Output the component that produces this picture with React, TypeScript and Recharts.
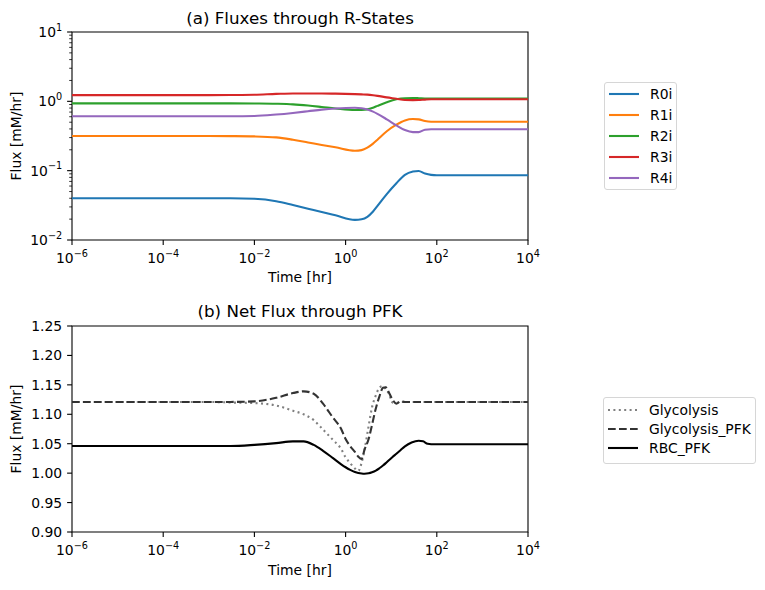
import React from 'react';
import { LineChart, Line, XAxis, YAxis, ReferenceArea, Legend } from 'recharts';

const FONT = '"DejaVu Sans", Verdana, sans-serif';

// ---------- Panel (a): fluxes through R-states ----------
const timesR = [1e-6, 1e-4, 1e-3, 0.003, 0.01, 0.03, 0.07, 0.15, 0.3, 0.6, 1.6, 2.24, 3, 4, 5, 8, 13, 20, 30, 40, 55, 75, 100, 150, 300, 1000, 10000];
const r0i = [0.040, 0.040, 0.040, 0.040, 0.0393, 0.0363, 0.032, 0.0283, 0.0253, 0.0227, 0.0195, 0.0199, 0.0216, 0.0258, 0.031, 0.046, 0.066, 0.087, 0.097, 0.099, 0.091, 0.087, 0.086, 0.086, 0.086, 0.086, 0.086];
const r1i = [0.316, 0.316, 0.316, 0.315, 0.312, 0.302, 0.279, 0.255, 0.235, 0.217, 0.194, 0.198, 0.215, 0.245, 0.28, 0.37, 0.46, 0.53, 0.555, 0.55, 0.52, 0.508, 0.507, 0.507, 0.507, 0.507, 0.507];
const r2i = [0.935, 0.935, 0.935, 0.934, 0.93, 0.922, 0.905, 0.87, 0.83, 0.79, 0.75, 0.752, 0.765, 0.81, 0.86, 0.97, 1.07, 1.11, 1.115, 1.11, 1.10, 1.10, 1.10, 1.10, 1.10, 1.10, 1.10];
const r3i = [1.23, 1.23, 1.23, 1.235, 1.245, 1.28, 1.30, 1.30, 1.30, 1.29, 1.27, 1.26, 1.25, 1.225, 1.20, 1.14, 1.09, 1.045, 1.04, 1.045, 1.06, 1.07, 1.07, 1.07, 1.07, 1.07, 1.07];
const r4i = [0.61, 0.61, 0.61, 0.61, 0.615, 0.645, 0.68, 0.72, 0.76, 0.79, 0.81, 0.795, 0.76, 0.71, 0.66, 0.55, 0.45, 0.385, 0.36, 0.36, 0.39, 0.395, 0.395, 0.395, 0.395, 0.395, 0.395];
const rNames = ['R0i', 'R1i', 'R2i', 'R3i', 'R4i'];
const rColors = ['#1f77b4', '#ff7f0e', '#2ca02c', '#d62728', '#9467bd'];
const rSeries = [r0i, r1i, r2i, r3i, r4i];

// ---------- Panel (b): net flux through PFK ----------
const timesP = [1e-6, 1e-4, 1e-3, 0.003, 0.01, 0.03, 0.07, 0.12, 0.2, 0.32, 0.52, 0.8, 1.0, 1.26, 1.6, 1.9, 2.25, 2.6, 3.2, 3.8, 4.6, 5.5, 6.6, 7.6, 8.9, 10.7, 13, 16, 20, 28, 40, 50, 63, 90, 160, 1000, 10000];
const glycolysis = [1.121, 1.121, 1.121, 1.120, 1.119, 1.115, 1.106, 1.100, 1.090, 1.074, 1.057, 1.041, 1.027, 1.017, 1.008, 1.004, 1.018, 1.040, 1.080, 1.112, 1.132, 1.145, 1.148, 1.143, 1.135, 1.120, 1.119, 1.121, 1.121, 1.121, 1.121, 1.121, 1.121, 1.121, 1.121, 1.121, 1.121];
const glycolysisPfk = [1.121, 1.121, 1.121, 1.121, 1.122, 1.128, 1.136, 1.139, 1.135, 1.118, 1.095, 1.075, 1.058, 1.046, 1.036, 1.028, 1.024, 1.040, 1.058, 1.082, 1.110, 1.130, 1.145, 1.146, 1.137, 1.125, 1.118, 1.122, 1.121, 1.121, 1.121, 1.121, 1.121, 1.121, 1.121, 1.121, 1.121];
const rbcPfk = [1.046, 1.046, 1.046, 1.046, 1.048, 1.051, 1.054, 1.054, 1.048, 1.038, 1.026, 1.015, 1.010, 1.0056, 1.002, 1.0003, 0.9993, 0.999, 0.9997, 1.0014, 1.0043, 1.0083, 1.013, 1.017, 1.022, 1.0275, 1.033, 1.039, 1.0455, 1.052, 1.055, 1.054, 1.050, 1.049, 1.049, 1.049, 1.049];
const pNames = ['Glycolysis', 'Glycolysis_PFK', 'RBC_PFK'];
const pColors = ['#808080', '#333333', '#000000'];
const pDash = ['2 3.4', '7.7 3.3', undefined];
const pSeries = [glycolysis, glycolysisPfk, rbcPfk];

// ---------- ticks ----------
const xTicks = [1e-6, 1e-4, 1e-2, 1, 1e2, 1e4];
const yMajorTop = [0.01, 0.1, 1, 10];
const yMinorTop = [0.02, 0.03, 0.04, 0.05, 0.06, 0.07, 0.08, 0.09, 0.2, 0.3, 0.4, 0.5, 0.6, 0.7, 0.8, 0.9, 2, 3, 4, 5, 6, 7, 8, 9];
const yTicksBottom = [0.9, 0.95, 1.0, 1.05, 1.1, 1.15, 1.2, 1.25];

const dataR = timesR.map((t, i) => {
  const row: any = { t };
  rNames.forEach((n, k) => (row[n] = rSeries[k][i]));
  return row;
});
const dataP = timesP.map((t, i) => {
  const row: any = { t };
  pNames.forEach((n, k) => (row[n] = pSeries[k][i]));
  return row;
});

const expLabel = (v: number) => {
  const e = Math.round(Math.log10(v));
  return e < 0 ? '\u2212' + Math.abs(e) : String(e);
};

const XPowTick = (props: any) => {
  const { x, y, payload } = props;
  const top = y - 10;
  return (
    <g>
      <line x1={x} x2={x} y1={top} y2={top + 4.9} stroke="#000" strokeWidth={1.1} />
      <text x={x} y={top + 23} textAnchor="middle" fontFamily={FONT} fontSize={13.9} fill="#000">
        <tspan>10</tspan>
        <tspan dy={-6.5} fontSize={9.7}>{expLabel(payload.value)}</tspan>
      </text>
    </g>
  );
};

const YPowTick = (props: any) => {
  const { x, y, payload } = props;
  const axisX = x + 10;
  const major = yMajorTop.includes(payload.value);
  if (!major) {
    return <line x1={axisX - 2.8} x2={axisX} y1={y} y2={y} stroke="#000" strokeWidth={0.8} />;
  }
  return (
    <g>
      <line x1={axisX - 4.9} x2={axisX} y1={y} y2={y} stroke="#000" strokeWidth={1.1} />
      <text x={axisX - 9.8} y={y + 5} textAnchor="end" fontFamily={FONT} fontSize={13.9} fill="#000">
        <tspan>10</tspan>
        <tspan dy={-6.5} fontSize={9.7}>{expLabel(payload.value)}</tspan>
      </text>
    </g>
  );
};

const YNumTick = (props: any) => {
  const { x, y, payload } = props;
  const axisX = x + 10;
  return (
    <g>
      <line x1={axisX - 4.9} x2={axisX} y1={y} y2={y} stroke="#000" strokeWidth={1.1} />
      <text x={axisX - 9.8} y={y + 5} textAnchor="end" fontFamily={FONT} fontSize={13.9} fill="#000">
        {payload.value.toFixed(2)}
      </text>
    </g>
  );
};

const makeLegend = (names: string[], colors: string[], dashes: (string | undefined)[], rowH: number, firstY: number, w: number, h: number) => () => (
  <div
    style={{
      position: 'relative',
      width: w,
      height: h,
      boxSizing: 'border-box',
      border: '1px solid #d6d6d6',
      borderRadius: 3,
      background: 'rgba(255,255,255,0.8)',
      fontFamily: FONT,
      fontSize: 13.9,
    }}
  >
    {names.map((n, i) => (
      <div key={n} style={{ position: 'absolute', left: 0, top: firstY + i * rowH - 10, height: 20, width: w }}>
        <svg width={40} height={20} style={{ position: 'absolute', left: 0, top: 0 }}>
          <line x1={4} x2={34} y1={10} y2={10} stroke={colors[i]} strokeWidth={2.1} strokeDasharray={dashes[i]} />
        </svg>
        <span style={{ position: 'absolute', left: 45, top: 1, lineHeight: '18px', color: '#000', whiteSpace: 'nowrap' }}>{n}</span>
      </div>
    ))}
  </div>
);

const LegendA = makeLegend(rNames, rColors, rNames.map(() => undefined), 21, 10.5, 73, 108);
const LegendB = makeLegend(pNames, pColors, pDash, 19, 12, 153, 67);

const textStyle = { fontFamily: FONT, fill: '#000' } as const;

export default function App() {
  return (
    <div style={{ position: 'absolute', left: 0, top: 0, width: 765, height: 590, background: '#fff' }}>
      <div style={{ position: 'absolute', left: 0, top: 0 }}>
        <LineChart width={765} height={295} data={dataR} margin={{ top: 32, right: 237, left: 0, bottom: 0 }}>
          <XAxis dataKey="t" type="number" scale="log" domain={[1e-6, 1e4]} ticks={xTicks} interval={0} allowDataOverflow
            height={55} tickSize={5} tickMargin={5} tickLine={false} axisLine={false} tick={<XPowTick />} />
          <YAxis type="number" scale="log" domain={[0.01, 10]} ticks={[...yMajorTop, ...yMinorTop]} interval={0} allowDataOverflow
            width={72} tickSize={5} tickMargin={5} tickLine={false} axisLine={false} tick={<YPowTick />} />
          {rNames.map((n, k) => (
            <Line key={n} dataKey={n} type="monotone" stroke={rColors[k]} strokeWidth={2.1} dot={false} isAnimationActive={false} />
          ))}
          <ReferenceArea x1={1e-6} x2={1e4} y1={0.01} y2={10} fill="none" stroke="#000" strokeWidth={1.1} fillOpacity={0} />
          <Legend layout="vertical" align="center" verticalAlign="middle" content={LegendA}
            wrapperStyle={{ left: 604, top: 82, width: 73, height: 108 }} />
        </LineChart>
      </div>
      <div style={{ position: 'absolute', left: 0, top: 295 }}>
        <LineChart width={765} height={292} data={dataP} margin={{ top: 31, right: 237, left: 0, bottom: 0 }}>
          <XAxis dataKey="t" type="number" scale="log" domain={[1e-6, 1e4]} ticks={xTicks} interval={0} allowDataOverflow
            height={55} tickSize={5} tickMargin={5} tickLine={false} axisLine={false} tick={<XPowTick />} />
          <YAxis type="number" domain={[0.9, 1.25]} ticks={yTicksBottom} interval={0} allowDataOverflow
            width={72} tickSize={5} tickMargin={5} tickLine={false} axisLine={false} tick={<YNumTick />} />
          {pNames.map((n, k) => (
            <Line key={n} dataKey={n} type="monotone" stroke={pColors[k]} strokeWidth={2.1} strokeDasharray={pDash[k]}
              dot={false} isAnimationActive={false} />
          ))}
          <ReferenceArea x1={1e-6} x2={1e4} y1={0.9} y2={1.25} fill="none" stroke="#000" strokeWidth={1.1} fillOpacity={0} />
          <Legend layout="vertical" align="center" verticalAlign="middle" content={LegendB}
            wrapperStyle={{ left: 603, top: 102, width: 153, height: 67 }} />
        </LineChart>
      </div>
      <svg width={765} height={590} style={{ position: 'absolute', left: 0, top: 0, pointerEvents: 'none' }}>
        <text x={300} y={23.5} textAnchor="middle" fontSize={16.7} {...textStyle}>(a) Fluxes through R-States</text>
        <text x={300} y={316.5} textAnchor="middle" fontSize={16.7} {...textStyle}>(b) Net Flux through PFK</text>
        <text x={300} y={282} textAnchor="middle" fontSize={13.9} {...textStyle}>Time [hr]</text>
        <text x={300} y={575} textAnchor="middle" fontSize={13.9} {...textStyle}>Time [hr]</text>
        <text transform="translate(21,136) rotate(-90)" textAnchor="middle" fontSize={13.9} {...textStyle}>Flux [mM/hr]</text>
        <text transform="translate(21,429) rotate(-90)" textAnchor="middle" fontSize={13.9} {...textStyle}>Flux [mM/hr]</text>
      </svg>
    </div>
  );
}
